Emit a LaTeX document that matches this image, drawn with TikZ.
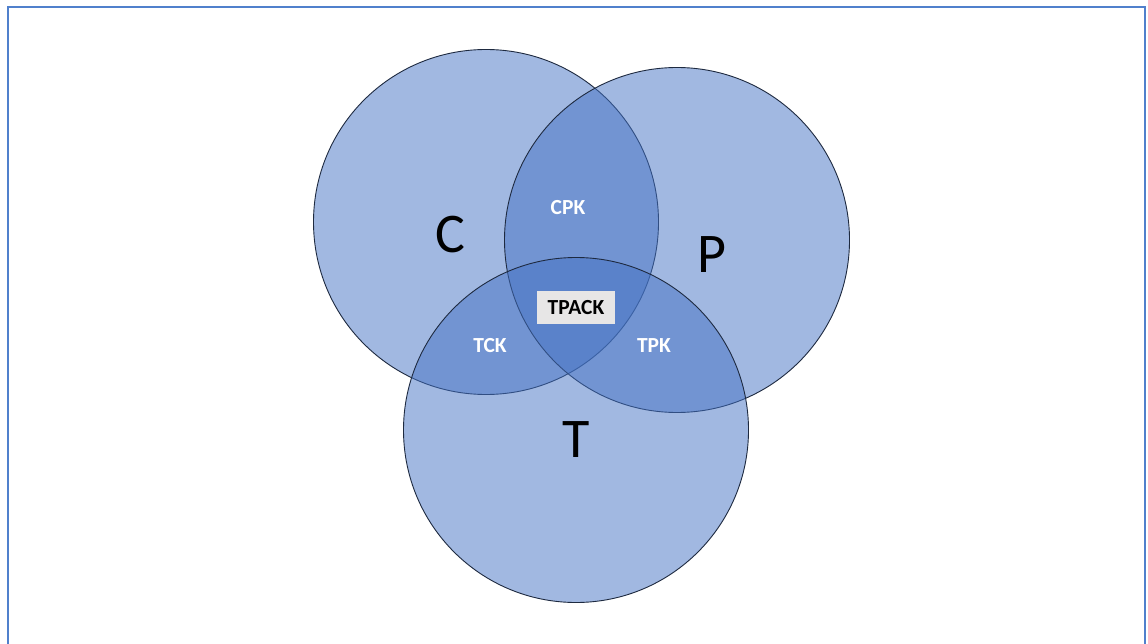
\documentclass[tikz,border=0pt]{standalone}
\usepackage{fontspec}
\setmainfont{Carlito}
\definecolor{setblue}{HTML}{4472C4}
\definecolor{framecol}{HTML}{5080CC}
\definecolor{edgecol}{HTML}{1E2A40}
\definecolor{tagfill}{HTML}{E7E6E6}
\tikzset{
  setdisk/.style={circle, minimum size=345pt, inner sep=0pt, fill=setblue, fill opacity=0.5, draw=edgecol, draw opacity=1, line width=0.9pt},
  biglabel/.style={font=\fontsize{56}{56}\selectfont, text=black},
  pairlabel/.style={font=\bfseries\fontsize{21.5}{21.5}\selectfont, text=white},
  coretag/.style={fill=tagfill, font=\bfseries\fontsize{21.5}{21.5}\selectfont, text=black, minimum width=78pt, minimum height=33pt, inner sep=0pt}
}
\begin{document}
\begin{tikzpicture}[x=1pt,y=-1pt]
\useasboundingbox (0,0) rectangle (1148,644);
\fill[white] (0,0) rectangle (1148,644);
\begin{scope}
\clip (0,0) rectangle (1148,644);
\draw[framecol, line width=2.2pt] (8,7) rectangle (1145,660);
\end{scope}
% the three sets
\node[setdisk] (C) at (486,222) {};
\node[setdisk] (P) at (677,240) {};
\node[setdisk] (T) at (576,430) {};
% set names
\node[biglabel] (Clab) at (450,235) {C};
\node[biglabel] (Plab) at (712,255) {P};
\node[biglabel] (Tlab) at (576,440) {T};
% pairwise overlaps
\node[pairlabel] (CPK) at (568,208) {CPK};
\node[pairlabel] (TCK) at (490,346) {TCK};
\node[pairlabel] (TPK) at (654,346) {TPK};
% centre
\node[coretag] (TPACK) at (576,307.5) {TPACK};
\end{tikzpicture}
\end{document}
